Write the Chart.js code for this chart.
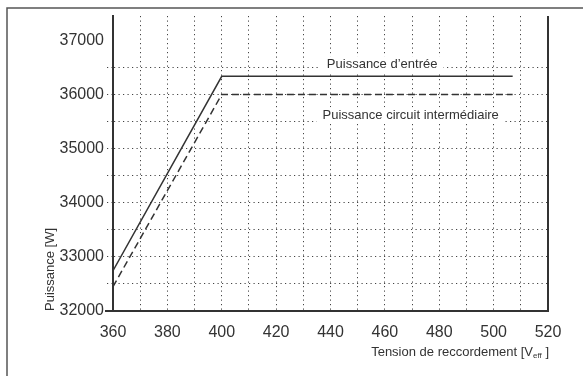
<!DOCTYPE html>
<html>
<head>
<meta charset="utf-8">
<script src="https://cdn.jsdelivr.net/npm/chart.js@4"></script>
<style>
  html, body { margin: 0; padding: 0; background: #fff; }
  #wrap { width: 583px; height: 376px; position: relative; }
</style>
</head>
<body>
<div id="wrap"><canvas id="chart" width="583" height="376"></canvas></div>
<script>
// tension de raccordement (V)
const tension = [360, 400, 507];
// puissance d'entree (W)
const puissanceEntree = [32745, 36335, 36335];
// puissance circuit intermediaire (W)
const puissanceCircuit = [32450, 36000, 36000];

const xTicks = [360, 380, 400, 420, 440, 460, 480, 500, 520];
const yTicks = [32000, 33000, 34000, 35000, 36000, 37000];

// etiquettes dans le graphique : [texte, x, y]
const labelEntree = ['Puissance d\u2019entrée', 459, 36560];
const labelCircuit = ['Puissance circuit intermédiaire', 469.5, 35615];

const FONT = "'Liberation Sans', Arial, sans-serif";
const INK = '#333';
const DOTS = [1.2, 3.3];

const toPoints = (xs, ys) => xs.map((x, i) => ({ x, y: ys[i] }));

// cadre, bordure droite, etiquettes et titres d'axes
const decorPlugin = {
  id: 'decor',
  beforeDraw(chart) {
    const ctx = chart.ctx;
    ctx.save();
    ctx.fillStyle = '#fff';
    ctx.fillRect(0, 0, chart.width, chart.height);
    // cadre exterieur (haut + gauche)
    ctx.strokeStyle = '#555';
    ctx.lineWidth = 1.5;
    ctx.beginPath();
    ctx.moveTo(7, chart.height);
    ctx.lineTo(7, 8);
    ctx.lineTo(chart.width, 8);
    ctx.stroke();
    ctx.restore();
  },
  afterDraw(chart) {
    const { ctx, chartArea: a, scales } = chart;
    const xs = scales.x, ys = scales.y;
    ctx.save();
    // bordure droite
    ctx.strokeStyle = INK;
    ctx.lineWidth = 2;
    ctx.beginPath();
    ctx.moveTo(a.right, a.top);
    ctx.lineTo(a.right, a.bottom + 1);
    ctx.stroke();
    // prolongement de l'axe x vers la gauche
    ctx.beginPath();
    ctx.moveTo(a.left - 8, ys.getPixelForValue(32000));
    ctx.lineTo(a.left, ys.getPixelForValue(32000));
    ctx.stroke();

    // etiquettes des courbes sur fond blanc
    ctx.font = '13px ' + FONT;
    ctx.textAlign = 'center';
    ctx.textBaseline = 'middle';
    [labelEntree, labelCircuit].forEach(([txt, vx, vy]) => {
      const px = xs.getPixelForValue(vx), py = ys.getPixelForValue(vy);
      const w = ctx.measureText(txt).width;
      ctx.fillStyle = '#fff';
      ctx.fillRect(px - w / 2 - 6, py - 8, w + 12, 16);
      ctx.fillStyle = INK;
      ctx.fillText(txt, px, py);
    });

    // titre axe x avec indice
    ctx.textBaseline = 'alphabetic';
    ctx.textAlign = 'left';
    const base = 'Tension de reccordement [V';
    ctx.font = '13px ' + FONT;
    const wBase = ctx.measureText(base).width;
    ctx.font = '8px ' + FONT;
    const wSub = ctx.measureText('eff').width;
    ctx.font = '13px ' + FONT;
    const wEnd = ctx.measureText(' ]').width;
    const x0 = a.right + 1 - (wBase + wSub + wEnd);
    const yb = a.bottom + 45;
    ctx.fillStyle = INK;
    ctx.fillText(base, x0, yb);
    ctx.font = '8px ' + FONT;
    ctx.fillText('eff', x0 + wBase, yb + 2);
    ctx.font = '13px ' + FONT;
    ctx.fillText(' ]', x0 + wBase + wSub, yb);

    // titre axe y
    ctx.translate(54, a.bottom);
    ctx.rotate(-Math.PI / 2);
    ctx.textAlign = 'left';
    ctx.fillText('Puissance [W]', 0, 0);
    ctx.restore();
  }
};

const hideY = (c) => c.tick && (c.tick.value === 37000 || c.tick.value === 32000);

new Chart(document.getElementById('chart'), {
  type: 'scatter',
  data: {
    datasets: [
      {
        label: 'Puissance d\u2019entrée',
        data: toPoints(tension, puissanceEntree),
        showLine: true,
        borderColor: INK,
        borderWidth: 1.5,
        pointRadius: 0,
        tension: 0
      },
      {
        label: 'Puissance circuit intermédiaire',
        data: toPoints(tension, puissanceCircuit),
        showLine: true,
        borderColor: INK,
        borderWidth: 1.5,
        borderDash: [7, 4],
        pointRadius: 0,
        tension: 0
      }
    ]
  },
  options: {
    responsive: false,
    animation: false,
    layout: { padding: { top: 16, right: 35, left: 0, bottom: 0 } },
    plugins: {
      legend: { display: false },
      tooltip: { enabled: false }
    },
    scales: {
      x: {
        type: 'linear',
        min: 360,
        max: 520,
        afterFit: (s) => { s.height = 65; },
        afterBuildTicks: (s) => {
          const t = [];
          for (let v = 360; v <= 520; v += 10) t.push({ value: v });
          s.ticks = t;
        },
        ticks: {
          autoSkip: false,
          maxRotation: 0,
          padding: 12,
          color: INK,
          font: { family: FONT, size: 16 },
          callback: (v) => (xTicks.includes(v) ? String(v) : '')
        },
        grid: {
          drawTicks: false,
          color: (c) => (c.tick && (c.tick.value === 360 || c.tick.value === 520) ? 'rgba(0,0,0,0)' : '#444'),
          lineWidth: 1
        },
        border: { color: INK, width: 2, dash: DOTS }
      },
      y: {
        min: 32000,
        max: 37450,
        afterFit: (s) => { s.width = 113; },
        afterBuildTicks: (s) => {
          const t = [];
          for (let v = 32000; v <= 37000; v += 500) t.push({ value: v });
          s.ticks = t;
        },
        ticks: {
          autoSkip: false,
          padding: 3,
          color: INK,
          font: { family: FONT, size: 16 },
          callback: (v) => (yTicks.includes(v) ? String(v) : '')
        },
        grid: {
          tickLength: 6,
          tickBorderDash: DOTS,
          color: (c) => (hideY(c) ? 'rgba(0,0,0,0)' : '#444'),
          tickColor: (c) => (hideY(c) ? 'rgba(0,0,0,0)' : '#444'),
          lineWidth: 1
        },
        border: { color: INK, width: 2, dash: DOTS }
      }
    }
  },
  plugins: [decorPlugin]
});
</script>
</body>
</html>
